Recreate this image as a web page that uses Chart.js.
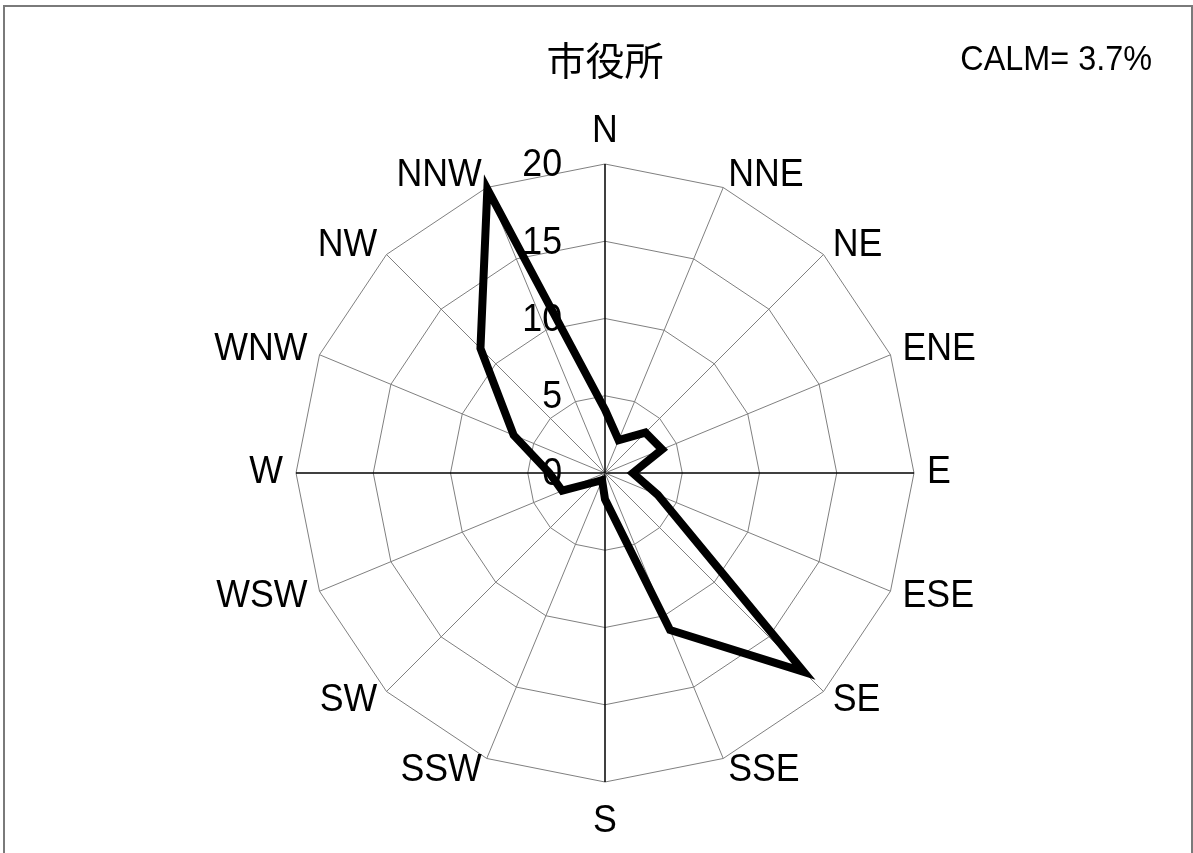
<!DOCTYPE html>
<html>
<head>
<meta charset="utf-8">
<script src="https://cdn.jsdelivr.net/npm/chart.js@4/dist/chart.umd.min.js"></script>
<style>
  html, body { margin: 0; padding: 0; background: #fff; }
  #wrap { width: 1193px; height: 853px; position: relative; }
</style>
</head>
<body>
<div id="wrap"><canvas id="c" width="1193" height="853"></canvas></div>
<script>
const chartTitle = "市役所";
const calmText = "CALM= 3.7%";
const directions = ["N","NNE","NE","ENE","E","ESE","SE","SSE","S","SSW","SW","WSW","W","WNW","NW","NNW"];
const frequencies = [4.1, 2.3, 3.7, 4.0, 1.8, 3.7, 18.2, 11.0, 1.7, 0.5, 0.8, 3.0, 3.6, 6.4, 11.4, 19.9];
const tickValues = [0, 5, 10, 15, 20];

const LATIN = "'Liberation Sans', Arial, sans-serif";
const CJK = "'Noto Sans CJK JP', sans-serif";

function drawText(ctx, text, x, y, sx) {
  ctx.save();
  ctx.translate(x, y);
  ctx.scale(sx, 1);
  ctx.fillText(text, 0, 0);
  ctx.restore();
}

const framePlugin = {
  id: 'frame',
  beforeDraw(chart) {
    const ctx = chart.ctx;
    ctx.save();
    ctx.fillStyle = '#fff';
    ctx.fillRect(0, 0, chart.width, chart.height);
    ctx.strokeStyle = '#7a7a7a';
    ctx.lineWidth = 2;
    ctx.strokeRect(4, 6, 1188, 900);
    ctx.restore();
  }
};

const labelsPlugin = {
  id: 'roseLabels',
  afterDraw(chart) {
    const ctx = chart.ctx;
    const scale = chart.scales.r;
    ctx.save();
    ctx.fillStyle = '#000';
    // direction labels
    ctx.font = '38px ' + LATIN;
    for (let i = 0; i < directions.length; i++) {
      const a = scale.getIndexAngle(i);
      const s = Math.sin(a), c = Math.cos(a);
      let gap = 13;
      if (Math.abs(s) < 1e-6) {
        ctx.textAlign = 'center';
        ctx.textBaseline = c > 0 ? 'bottom' : 'top';
        if (c < 0) gap = 21;
      } else {
        ctx.textAlign = s > 0 ? 'left' : 'right';
        ctx.textBaseline = 'middle';
      }
      const p = scale.getPointPosition(i, scale.drawingArea + gap);
      drawText(ctx, directions[i], p.x, p.y, 0.94);
    }
    // tick labels
    ctx.font = '38px ' + LATIN;
    ctx.textAlign = 'right';
    ctx.textBaseline = 'middle';
    tickValues.forEach(v => {
      const d = scale.getDistanceFromCenterForValue(v);
      drawText(ctx, String(v), scale.xCenter - 43, scale.yCenter - d + 2, 0.94);
    });
    // title
    ctx.font = '39px ' + CJK;
    ctx.textAlign = 'center';
    ctx.textBaseline = 'middle';
    ctx.fillText(chartTitle, scale.xCenter, 60);
    // calm
    ctx.font = '35px ' + LATIN;
    ctx.textAlign = 'right';
    drawText(ctx, calmText, 1152, 60, 0.925);
    ctx.restore();
  }
};

new Chart(document.getElementById('c'), {
  type: 'radar',
  data: {
    labels: directions,
    datasets: [{
      data: frequencies,
      borderColor: '#000',
      borderWidth: 8,
      borderJoinStyle: 'miter',
      backgroundColor: 'rgba(0,0,0,0)',
      fill: false,
      pointRadius: 0,
      pointHoverRadius: 0,
      tension: 0
    }]
  },
  options: {
    responsive: false,
    animation: false,
    devicePixelRatio: 1,
    layout: { padding: { left: 296, right: 278, top: 164, bottom: 70 } },
    plugins: { legend: { display: false }, tooltip: { enabled: false }, title: { display: false } },
    scales: {
      r: {
        min: 0,
        max: 20,
        beginAtZero: true,
        ticks: { display: false, stepSize: 5 },
        pointLabels: { display: false },
        grid: { circular: false, color: '#808080', lineWidth: 1 },
        angleLines: {
          display: true,
          color: (ctx) => (ctx.index % 4 === 0 ? '#000' : '#808080'),
          lineWidth: (ctx) => (ctx.index % 4 === 0 ? 1.5 : 1)
        }
      }
    }
  },
  plugins: [framePlugin, labelsPlugin]
});
</script>
</body>
</html>
